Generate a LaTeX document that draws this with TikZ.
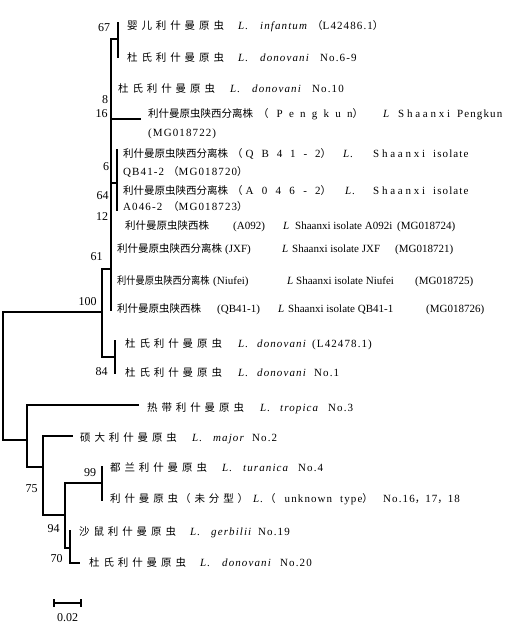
\documentclass[tikz,border=0pt]{standalone}
\usepackage{fontspec}
\usepackage{graphicx}
\setmainfont{Liberation Serif}
\newfontfamily\zhwide[LetterSpace=37]{Noto Sans CJK SC}
\newfontfamily\zhtight{Noto Sans CJK SC}
\newfontfamily\lawide[LetterSpace=10]{Liberation Serif}
\newcommand\zw[1]{{\zhwide\fontsize{10.5}{12}\selectfont #1}}
\newcommand\zt[1]{{\zhtight\fontsize{10.5}{12}\selectfont #1}}
\newcommand\pc[2]{\makebox[#1pt][l]{#2}}
\newcommand\spread[2]{\makebox[#1pt][s]{#2}}

\tikzset{
  branch/.style={line width=2pt, line cap=rect},
  taxon/.style={anchor=west, inner sep=0pt, text height=10pt, text depth=2pt, font=\lawide\fontsize{11}{13}\selectfont},
  taxontight/.style={taxon, font=\fontsize{11}{13}\selectfont},
  boot/.style={inner sep=0pt, font=\fontsize{12}{14}\selectfont},
  scalebar/.style={line width=1.5pt}
}

\begin{document}
\begin{tikzpicture}[x=1pt,y=-1pt]
\useasboundingbox (0,0) rectangle (520,635);
% inner nodes of the tree
\coordinate (root) at (3,376);
\coordinate (n100) at (102,312);
\coordinate (n61) at (111,269);
\coordinate (n84) at (115,357);
\coordinate (n67) at (118,39);
\coordinate (n64) at (117,183);
\coordinate (nOut) at (27,440);
\coordinate (n75) at (43,467);
\coordinate (n94) at (65,515);
\coordinate (n99) at (102,483);
\coordinate (n70) at (70,548);
% tips
\coordinate (tInfantum) at (118,23);
\coordinate (tDon69) at (118,57);
\coordinate (tDon10) at (111,88);
\coordinate (tPengkun) at (140,119);
\coordinate (tQB412) at (117,150);
\coordinate (tA0462) at (117,210);
\coordinate (tA092) at (111,229);
\coordinate (tJXF) at (111,248);
\coordinate (tNiufei) at (111,279);
\coordinate (tQB411) at (111,310);
\coordinate (tDonL42) at (115,341);
\coordinate (tDon1) at (115,373);
\coordinate (tTropica) at (138,405);
\coordinate (tMajor) at (72,436);
\coordinate (tTuranica) at (102,467);
\coordinate (tUnknown) at (102,500);
\coordinate (tGerbilii) at (70,531);
\coordinate (tDon20) at (79,563);
\foreach \p/\c in {root/n100, root/nOut, n100/n61, n100/n84, n61/n67, n61/tDon10, n61/tPengkun, n61/n64, n61/tA092, n61/tJXF, n61/tNiufei, n61/tQB411, n67/tInfantum, n67/tDon69, n64/tQB412, n64/tA0462, n84/tDonL42, n84/tDon1, nOut/tTropica, nOut/n75, n75/tMajor, n75/n94, n94/n99, n94/n70, n99/tTuranica, n99/tUnknown, n70/tGerbilii, n70/tDon20}
    \draw[branch] (\p) |- (\c);
% bootstrap values
\foreach \v/\px/\py in {67/104/28, 8/105/100, 16/101.5/114, 6/106/167, 64/102.5/196, 12/102/217, 61/96.5/257, 100/87.5/302, 84/101.5/372, 75/31.5/489, 99/90/473, 94/53.5/529, 70/56.5/559}
    \node[boot] (bs\v) at (\px,\py) {\v};
% taxa
\node[taxon] (infantum) at (127,25) {\pc{111}{\zw{婴儿利什曼原虫}}\pc{22}{\textit{L.}}\pc{52}{\textit{infantum}}\zt{（}L42486.1\zt{）}};
\node[taxon] (don69) at (127,57) {\pc{111}{\zw{杜氏利什曼原虫}}\pc{22}{\textit{L.}}\pc{60}{\textit{donovani}}No.6-9};
\node[taxon] (don10) at (118,88) {\pc{112}{\zw{杜氏利什曼原虫}}\pc{22}{\textit{L.}}\pc{60}{\textit{donovani}}No.10};
\node[taxon] (pengkun) at (148,113) {\pc{110}{\zt{利什曼原虫陕西分离株}}\pc{125}{\zt{（}\hspace{8pt}\spread{76}{P e n g k u n}\zt{）}}\pc{15}{\textit{L}}\pc{59}{\spread{52}{S h a a n x i}}Pengkun};
\node[taxon] (pengkunacc) at (148,132) {(MG018722)};
\node[taxon] (qb412) at (123,153) {\pc{109}{\zt{利什曼原虫陕西分离株}}\pc{111}{\zt{（}\hspace{3pt}\spread{75}{Q B 4 1 - 2}\zt{）}}\pc{30}{\textit{L.}}\pc{60}{\spread{52}{S h a a n x i}}isolate};
\node[taxon] (qb412acc) at (123,171) {\pc{45}{QB41-2}\zt{（}MG018720\zt{）}};
\node[taxon] (a0462) at (123,190) {\pc{109}{\zt{利什曼原虫陕西分离株}}\pc{113}{\zt{（}\hspace{3pt}\spread{75}{A 0 4 6 - 2}\zt{）}}\pc{28}{\textit{L.}}\pc{60}{\spread{52}{S h a a n x i}}isolate};
\node[taxon] (a0462acc) at (123,206) {\pc{45}{A046-2}\zt{（}MG018723\zt{）}};
\node[taxontight] (a092) at (125,225) {\pc{108}{\zt{利什曼原虫陕西株}}\pc{50}{(A092)}\pc{12}{\textit{L}}\pc{102}{Shaanxi isolate A092i}(MG018724)};
\node[taxontight] (jxf) at (117,248) {\pc{108}{\zt{利什曼原虫陕西分离株}}\pc{57}{(JXF)}\pc{10}{\textit{L}}\pc{103}{Shaanxi isolate JXF}(MG018721)};
\node[taxontight] (niufei) at (117,280) {\pc{96}{\scalebox{0.88}[1]{\zt{利什曼原虫陕西分离株}}}\pc{74}{(Niufei)}\pc{9}{\textit{L}}\pc{119}{Shaanxi isolate Niufei}(MG018725)};
\node[taxontight] (qb411) at (117,308) {\pc{100}{\zt{利什曼原虫陕西株}}\pc{61}{(QB41-1)}\pc{10}{\textit{L}}\pc{138}{Shaanxi isolate QB41-1}(MG018726)};
\node[taxon] (donL42) at (125,343) {\pc{113}{\zw{杜氏利什曼原虫}}\pc{19}{\textit{L.}}\pc{55}{\textit{donovani}}(L42478.1)};
\node[taxon] (don1) at (125,372) {\pc{113}{\zw{杜氏利什曼原虫}}\pc{19}{\textit{L.}}\pc{57}{\textit{donovani}}No.1};
\node[taxon] (tropica) at (147,407) {\pc{113}{\zw{热带利什曼原虫}}\pc{20}{\textit{L.}}\pc{48}{\textit{tropica}}No.3};
\node[taxon] (major) at (80,437) {\pc{112}{\zw{硕大利什曼原虫}}\pc{21}{\textit{L.}}\pc{39}{\textit{major}}No.2};
\node[taxon] (turanica) at (110,467) {\pc{112}{\zw{都兰利什曼原虫}}\pc{21}{\textit{L.}}\pc{55}{\textit{turanica}}No.4};
\node[taxon] (unknown) at (110,498) {\pc{70}{\zw{利什曼原虫}}\pc{73}{\zw{（未分型）}}\pc{12}{\textit{L.}}\pc{118}{\zt{（}\hspace{9pt}unknown\hspace{8pt}type\zt{）}}No.16\zt{，}17\zt{，}18};
\node[taxon] (gerbilii) at (79,531) {\pc{111}{\zw{沙鼠利什曼原虫}}\pc{21}{\textit{L.}}\pc{47}{\textit{gerbilii}}No.19};
\node[taxon] (don20) at (89,562) {\pc{111}{\zw{杜氏利什曼原虫}}\pc{22}{\textit{L.}}\pc{58}{\textit{donovani}}No.20};
% scale bar
\coordinate (sbL) at (54,603);
\coordinate (sbR) at (81,603);
\draw[scalebar] (sbL) -- (sbR);
\draw[scalebar] ([yshift=4pt]sbL) -- ([yshift=-4pt]sbL);
\draw[scalebar] ([yshift=4pt]sbR) -- ([yshift=-4pt]sbR);
\node[boot] (sblab) at (67.5,618) {0.02};
\end{tikzpicture}
\end{document}
